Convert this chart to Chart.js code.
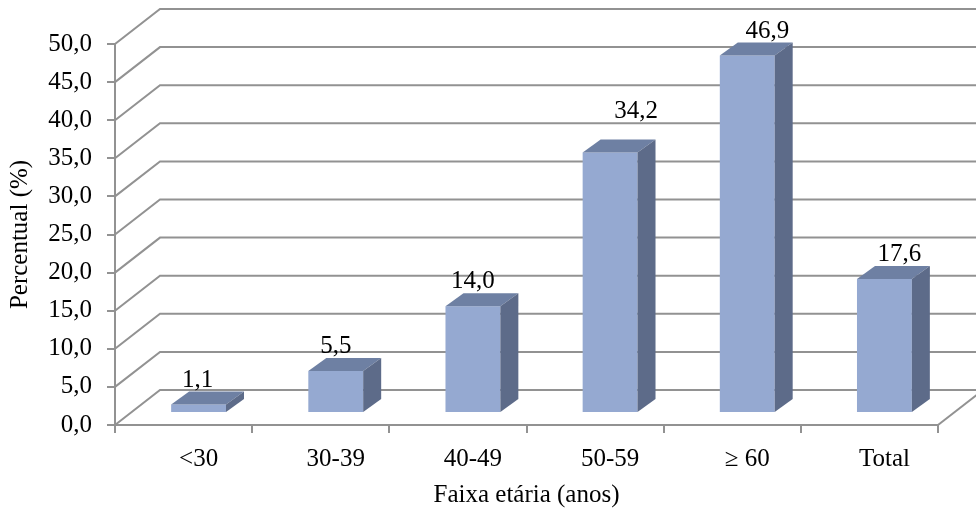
<!DOCTYPE html>
<html>
<head>
<meta charset="utf-8">
<script src="https://cdn.jsdelivr.net/npm/chart.js@4/dist/chart.umd.min.js"></script>
<style>
  html, body { margin: 0; padding: 0; background: #fff; }
  #wrap { width: 976px; height: 513px; }
</style>
</head>
<body>
<div id="wrap"><canvas id="chart"></canvas></div>
<script>
// Percentual por faixa etária
const categories = ["<30", "30-39", "40-49", "50-59", "\u2265 60", "Total"];
const values = [1.1, 5.5, 14.0, 34.2, 46.9, 17.6];
const yTickValues = [0, 5, 10, 15, 20, 25, 30, 35, 40, 45, 50];

// label nudges (px) for the value labels above the bars
const labelShiftX = [-1, 0, 0, 26, 20, 15];
const labelLift = [0, 0, 0, 16, 0, 0];

const FONT = "'Liberation Serif', 'Times New Roman', serif";
const FONT_SIZE = 25;
const GRID = "#929292";
const FRONT = "#95a9d1";
const TOP = "#6e80a3";
const SIDE = "#5d6b89";

// oblique depth: back wall and bar position/thickness
const WALL_X = 45, WALL_Y = 35;
const BAR_X = 15, BAR_Y = 12;
const DEPTH_X = 18, DEPTH_Y = 13;

const fmt = v => v.toFixed(1).replace(".", ",");

const bars3d = {
  id: "bars3d",
  beforeDatasetsDraw(chart) {
    const { ctx, chartArea: a, scales: { y } } = chart;
    // back wall gridlines + left wall diagonals
    ctx.save();
    ctx.strokeStyle = GRID;
    ctx.lineWidth = 2;
    for (const v of yTickValues) {
      const py = y.getPixelForValue(v);
      ctx.beginPath();
      ctx.moveTo(a.left, py);
      ctx.lineTo(a.left + WALL_X, py - WALL_Y);
      ctx.lineTo(chart.width + 20, py - WALL_Y);
      ctx.stroke();
    }
    // floor right edge
    ctx.beginPath();
    ctx.moveTo(a.right, a.bottom);
    ctx.lineTo(a.right + WALL_X, a.bottom - WALL_Y);
    ctx.stroke();
    ctx.restore();

    // bars sit part way back on the floor
    ctx.save();
    ctx.translate(BAR_X, -BAR_Y);
  },
  afterDatasetsDraw(chart) {
    const { ctx } = chart;
    const meta = chart.getDatasetMeta(0);
    meta.data.forEach((bar, i) => {
      const { x, y, base, width } = bar.getProps(["x", "y", "base", "width"], true);
      const l = x - width / 2, r = x + width / 2;
      // top face
      ctx.fillStyle = TOP;
      ctx.beginPath();
      ctx.moveTo(l, y);
      ctx.lineTo(l + DEPTH_X, y - DEPTH_Y);
      ctx.lineTo(r + DEPTH_X, y - DEPTH_Y);
      ctx.lineTo(r, y);
      ctx.closePath();
      ctx.fill();
      // side face
      ctx.fillStyle = SIDE;
      ctx.beginPath();
      ctx.moveTo(r, y);
      ctx.lineTo(r + DEPTH_X, y - DEPTH_Y);
      ctx.lineTo(r + DEPTH_X, base - DEPTH_Y);
      ctx.lineTo(r, base);
      ctx.closePath();
      ctx.fill();
      // value label
      ctx.fillStyle = "#000";
      ctx.font = FONT_SIZE + "px " + FONT;
      ctx.textAlign = "center";
      ctx.textBaseline = "alphabetic";
      ctx.fillText(fmt(values[i]), x + labelShiftX[i], y - 18 - labelLift[i]);
    });
    ctx.restore();
  }
};

new Chart(document.getElementById("chart"), {
  type: "bar",
  data: {
    labels: categories,
    datasets: [{
      data: values,
      backgroundColor: FRONT,
      borderWidth: 0,
      barPercentage: 0.4,
      categoryPercentage: 1.0
    }]
  },
  options: {
    responsive: true,
    maintainAspectRatio: false,
    animation: false,
    layout: { padding: { top: 44, right: 38, left: 0, bottom: 0 } },
    plugins: {
      legend: { display: false },
      tooltip: { enabled: false }
    },
    scales: {
      x: {
        afterFit: s => { s.height = 88; },
        grid: {
          drawOnChartArea: false,
          drawTicks: true,
          tickLength: 8,
          color: GRID,
          lineWidth: 2
        },
        border: { color: GRID, width: 2 },
        ticks: {
          color: "#000",
          font: { family: FONT, size: FONT_SIZE },
          padding: 11,
          labelOffset: 15
        },
        title: {
          display: true,
          text: "Faixa etária (anos)",
          color: "#000",
          font: { family: FONT, size: FONT_SIZE },
          padding: { top: 0, bottom: 3 }
        }
      },
      y: {
        min: 0,
        max: 50,
        afterFit: s => { s.width = 115; },
        afterBuildTicks: s => { s.ticks = yTickValues.map(v => ({ value: v })); },
        grid: {
          drawOnChartArea: false,
          drawTicks: true,
          tickLength: 8,
          color: GRID,
          lineWidth: 2
        },
        border: { color: GRID, width: 2 },
        ticks: {
          color: "#000",
          font: { family: FONT, size: FONT_SIZE },
          padding: 15,
          callback: v => fmt(v)
        },
        title: {
          display: true,
          text: "Percentual (%)",
          color: "#000",
          font: { family: FONT, size: FONT_SIZE },
          padding: { top: 5, bottom: 0 }
        }
      }
    }
  },
  plugins: [bars3d]
});
</script>
</body>
</html>
